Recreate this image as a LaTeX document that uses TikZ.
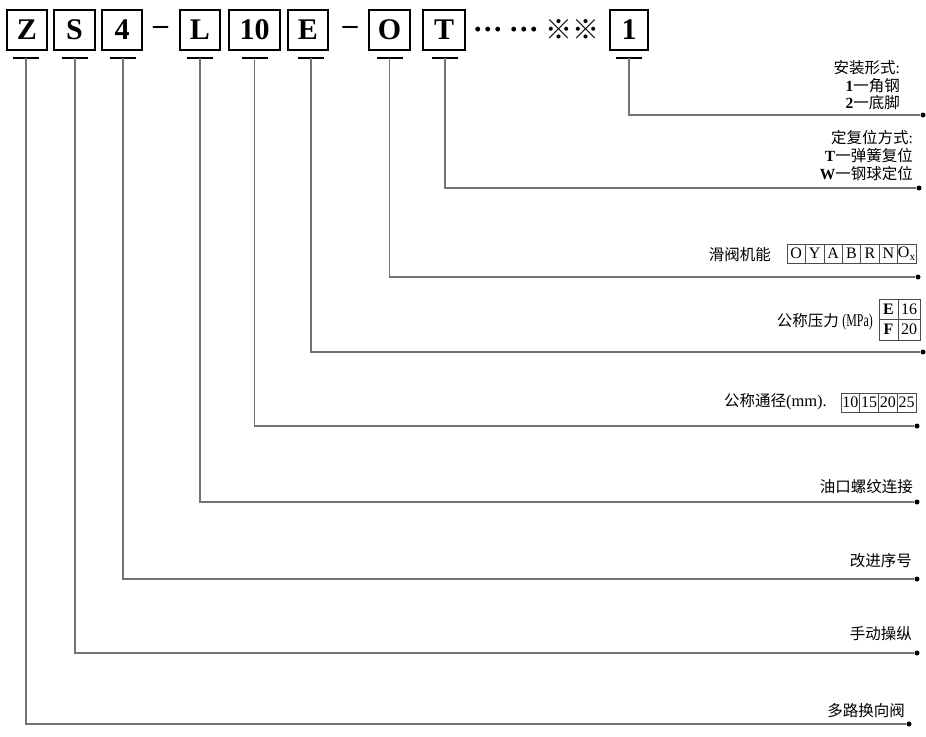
\documentclass[tikz,border=0pt]{standalone}
\usepackage{fontspec}
\setmainfont{Liberation Serif}
\newfontfamily\cjk{Noto Sans CJK SC}
\newfontfamily\narrowserif[FakeStretch=0.66]{Liberation Serif}
\usetikzlibrary{calc}
\begin{document}
\begin{tikzpicture}[x=1pt,y=-1pt,
  codebox/.style={draw,line width=2.2pt,minimum width=40pt,minimum height=40pt,inner sep=0pt,
    font=\fontsize{30}{30}\selectfont\bfseries},
  sepsign/.style={inner sep=0pt,font=\fontsize{30}{30}\selectfont\bfseries},
  lead/.style={draw=black!55,line width=1.2pt},
  bar/.style={line width=2.5pt},
  lab/.style={inner sep=0pt,align=right,font=\cjk\fontsize{15.5}{17.5}\selectfont},
  enddot/.style={circle,fill=black,inner sep=0pt,minimum size=5pt},
  cellbox/.style={draw=black!70,line width=0.6pt,inner sep=0pt,font=\fontsize{16}{16}\selectfont}
]
\useasboundingbox (0,0) rectangle (926,736);

% code boxes
\node[codebox] (Z) at (27,30) {Z};
\node[codebox,minimum width=41pt] (S) at (74.5,30) {S};
\node[codebox] (n4) at (122,30) {4};
\node[sepsign] (d1) at (160.5,30) {–};
\node[codebox] (L) at (200,30) {L};
\node[codebox,minimum width=51pt] (n10) at (254.5,30) {10};
\node[codebox] (E) at (308,30) {E};
\node[sepsign] (d2) at (350,30) {–};
\node[codebox,minimum width=41pt] (O) at (389.5,30) {O};
\node[codebox,minimum width=42pt] (T) at (444,30) {T};
\node[sepsign] (dA) at (488,33.5) {···};
\node[sepsign] (dB) at (524,33.5) {···};
\node[inner sep=0pt,font=\cjk\fontsize{27}{27}\selectfont] (rm) at (572.5,30) {※※};
\node[codebox,minimum width=38pt] (n1) at (629,30) {1};

% bar coordinates under boxes
\coordinate (bZ) at ($(Z.south)+(-1,7)$);
\coordinate (bS) at ($(S.south)+(0.5,7)$);
\coordinate (b4) at ($(n4.south)+(1,7)$);
\coordinate (bL) at ($(L.south)+(0,7)$);
\coordinate (b10) at ($(n10.south)+(0,7)$);
\coordinate (bE) at ($(E.south)+(3,7)$);
\coordinate (bO) at ($(O.south)+(0,7)$);
\coordinate (bT) at ($(T.south)+(1,7)$);
\coordinate (b1) at ($(n1.south)+(0,7)$);
\foreach \c in {bZ,bS,b4,bL,b10,bE,bO,bT,b1}{
  \draw[bar] ($(\c)+(-13,0)$) -- ($(\c)+(13,0)$);
}

% end dots
\node[enddot] (e1) at (923,115) {};
\node[enddot] (eT) at (919,188) {};
\node[enddot] (eO) at (918,277) {};
\node[enddot] (eE) at (923,352) {};
\node[enddot] (e10) at (917,426) {};
\node[enddot] (eL) at (917,502) {};
\node[enddot] (e4) at (917,579) {};
\node[enddot] (eS) at (917,653) {};
\node[enddot] (eZ) at (909,724) {};

% leaders
\draw[lead] (b1) |- (e1);
\draw[lead] (bT) |- (eT);
\draw[lead] (bO) |- (eO);
\draw[lead] (bE) |- (eE);
\draw[lead] (b10) |- (e10);
\draw[lead] (bL) |- (eL);
\draw[lead] (b4) |- (e4);
\draw[lead] (bS) |- (eS);
\draw[lead] (bZ) |- (eZ);

% labels
\node[lab,anchor=east] (lab1) at (900,85.5) {安装形式{\rmfamily :}\\{\rmfamily\bfseries 1}一角钢\\{\rmfamily\bfseries 2}一底脚};
\node[lab,anchor=east,font=\cjk\fontsize{15.5}{18}\selectfont] (labT) at (913,156) {定复位方式{\rmfamily :}\\{\rmfamily\bfseries T}一弹簧复位\\{\rmfamily\bfseries W}一钢球定位};
\node[lab,anchor=east] (labO) at (771,255) {滑阀机能};
\foreach \t [count=\i from 0] in {O,Y,A,B,R,N,{O\textsubscript{x}}}{
  \node[cellbox,minimum width=18.43pt,minimum height=19pt] (fo\i) at ({796.2+18.43*\i},253.5) {\t};
}
\node[lab,anchor=east] (labE) at (873,322) {公称压力 {\narrowserif\fontsize{18}{18}\selectfont (MPa)}};
\node[cellbox,minimum width=19pt,minimum height=20.5pt,font=\fontsize{16}{16}\selectfont\bfseries] (pE) at (888.5,309.25) {E};
\node[cellbox,minimum width=22pt,minimum height=20.5pt] (p16) at (909,309.25) {16};
\node[cellbox,minimum width=19pt,minimum height=20.5pt,font=\fontsize{16}{16}\selectfont\bfseries] (pF) at (888.5,329.75) {F};
\node[cellbox,minimum width=22pt,minimum height=20.5pt] (p20) at (909,329.75) {20};
\node[lab,anchor=east] (lab10) at (827,402) {公称通径{\rmfamily\fontsize{16.5}{16.5}\selectfont (mm).}};
\foreach \t [count=\i from 0] in {10,15,20,25}{
  \node[cellbox,minimum width=18.75pt,minimum height=19pt] (dn\i) at ({850.4+18.75*\i},402.5) {\t};
}
\node[lab,anchor=east] (labL) at (913,487) {油口螺纹连接};
\node[lab,anchor=east] (lab4) at (912,561) {改进序号};
\node[lab,anchor=east] (labS) at (912,634) {手动操纵};
\node[lab,anchor=east] (labZ) at (905,711) {多路换向阀};
\end{tikzpicture}
\end{document}
